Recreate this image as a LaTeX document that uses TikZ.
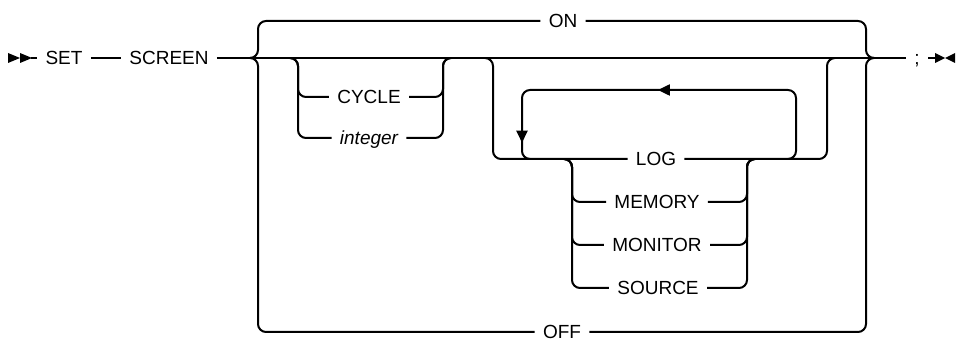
\documentclass[tikz,border=0pt]{standalone}
\usepackage{fontspec}
\setmainfont{Liberation Sans}
\usetikzlibrary{arrows.meta,decorations.markings}
\definecolor{ink}{RGB}{0,0,0}
\tikzset{
  kw/.style={inner xsep=4pt,inner ysep=0pt,text height=6.7pt,text depth=0pt,
    font=\fontsize{9.5}{11}\selectfont,text=ink},
  var/.style={kw,font=\fontsize{9.5}{11}\selectfont\itshape},
  rail/.style={draw=ink,line width=1pt,rounded corners=4pt},
  repeat/.style={rail,postaction={decorate},decoration={markings,
    mark=at position 0.503 with {\arrow{Triangle[length=6pt,width=5.5pt]}},
    mark=at position 0.95 with {\arrow{Triangle[length=6pt,width=5.5pt]}}}},
}
\begin{document}
\begin{tikzpicture}[x=0.5pt,y=-0.5pt]
  \useasboundingbox (0,0) rectangle (957,341);
  % keywords
  \node[kw] (set) at (64,58) {SET};
  \node[kw] (screen) at (169,58) {SCREEN};
  \node[kw] (on) at (563,21) {ON};
  \node[kw] (cycle) at (369,97) {CYCLE};
  \node[var] (integer) at (369,138) {integer};
  \node[kw] (log) at (656,159) {LOG};
  \node[kw] (memory) at (657,202) {MEMORY};
  \node[kw] (monitor) at (657,245) {MONITOR};
  \node[kw] (source) at (658,288) {SOURCE};
  \node[kw] (off) at (562,332) {OFF};
  \node[kw] (semi) at (917,58) {;};
  % junctions
  \coordinate (start) at (31,58);
  \coordinate (stop) at (935,58);
  \coordinate (bl) at (251,58);
  \coordinate (br) at (873,58);
  \coordinate (cyc in) at (290,58);
  \coordinate (cyc out) at (451,58);
  \coordinate (log in) at (485,58);
  \coordinate (log out) at (835,58);
  \coordinate (mem in) at (564,159);
  \coordinate (mem out) at (755,159);
  \coordinate (rep l) at (530,159);
  \coordinate (rep r) at (788,159);
  % ends
  \fill[ink] (8,53) -- (20,58) -- (8,63) -- cycle;
  \fill[ink] (20,53) -- (32,58) -- (20,63) -- cycle;
  \fill[ink] (935,53) -- (945,58) -- (935,63) -- cycle;
  \fill[ink] (955,53) -- (945,58) -- (955,63) -- cycle;
  % main line
  \draw[rail] (start) -- (set.west);
  \draw[rail] (set.east) -- (screen.west);
  \draw[rail] (screen.east) -- (semi.west);
  \draw[rail] (semi.east) -- (stop);
  % ON / OFF braces
  \draw[rail] (bl) -- ++(7,0) |- (on.west);
  \draw[rail] (bl) -- ++(7,0) |- (off.west);
  \draw[rail] (br) -- ++(-7,0) |- (on.east);
  \draw[rail] (br) -- ++(-7,0) |- (off.east);
  % CYCLE | integer
  \draw[rail] (cyc in) -- ++(8,0) |- (cycle.west);
  \draw[rail] (cyc in) -- ++(8,0) |- (integer.west);
  \draw[rail] (cyc out) -- ++(-8,0) |- (cycle.east);
  \draw[rail] (cyc out) -- ++(-8,0) |- (integer.east);
  % LOG group
  \draw[rail] (log in) -- ++(8,0) |- (log.west);
  \draw[rail] (log out) -- ++(-8,0) |- (log.east);
  \foreach \k in {memory,monitor,source}{
    \draw[rail] (mem in) -- ++(8,0) |- (\k.west);
    \draw[rail] (mem out) -- ++(-8,0) |- (\k.east);
  }
  % repeat loop
  \draw[repeat] (rep r) -- ++(8,0) -- ++(0,-69) -- ++(-274,0) |- (rep l);
\end{tikzpicture}
\end{document}
